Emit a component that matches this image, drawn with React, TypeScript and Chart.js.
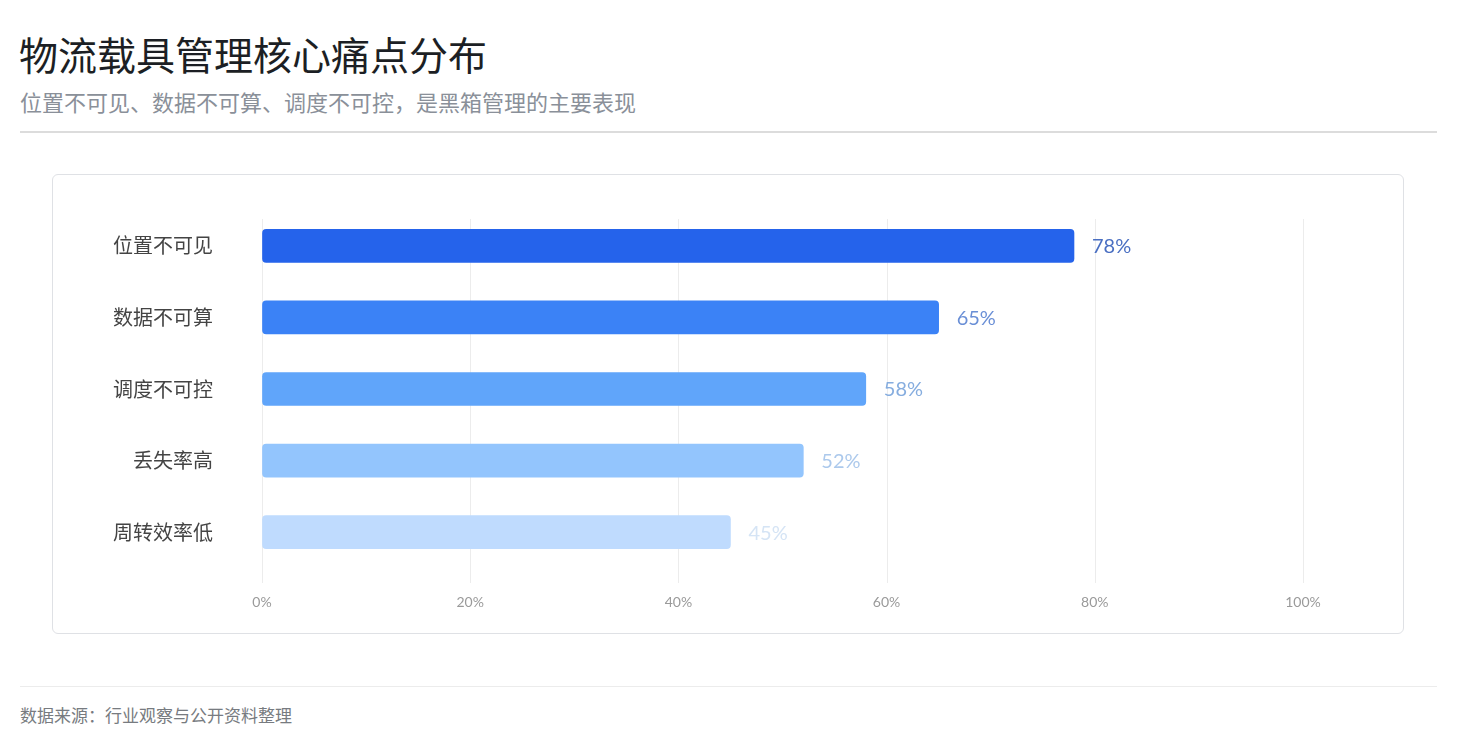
import React, { useEffect, useRef } from "react";
import { Chart, registerables } from "chart.js";

Chart.register(...registerables);

const categories = ["位置不可见", "数据不可算", "调度不可控", "丢失率高", "周转效率低"];
const values = [78, 65, 58, 52, 45];
const barColors = ["#2563eb", "#3b82f6", "#60a5fa", "#93c5fd", "#bfdbfe"];
const labelColors = ["#4a6fc2", "#6a8fd6", "#86addf", "#acc9ec", "#d5e4f5"];
const xTicks = [0, 20, 40, 60, 80, 100];

const CJK = '"Noto Sans CJK SC", "Noto Sans", sans-serif';

const gridPlugin = {
  id: "customGrid",
  beforeDatasetsDraw(chart: any) {
    const { ctx, chartArea, scales } = chart;
    ctx.save();
    ctx.strokeStyle = "#ececec";
    ctx.lineWidth = 1;
    xTicks.forEach((v) => {
      const x = Math.round(scales.x.getPixelForValue(v)) + 0.5;
      ctx.beginPath();
      ctx.moveTo(x, chartArea.top + 9);
      ctx.lineTo(x, chartArea.bottom + 15);
      ctx.stroke();
    });
    ctx.restore();
  },
};

const valueLabelPlugin = {
  id: "valueLabels",
  afterDatasetsDraw(chart: any) {
    const { ctx } = chart;
    const meta = chart.getDatasetMeta(0);
    ctx.save();
    ctx.font = '20px Lato, "Noto Sans", sans-serif';
    ctx.textAlign = "left";
    ctx.textBaseline = "middle";
    meta.data.forEach((bar: any, i: number) => {
      ctx.fillStyle = labelColors[i];
      ctx.fillText(values[i] + "%", bar.x + 18, bar.y + 1);
    });
    ctx.restore();
  },
};

function BarChart() {
  const ref = useRef<HTMLCanvasElement | null>(null);
  useEffect(() => {
    if (!ref.current) return;
    const chart = new Chart(ref.current, {
      type: "bar",
      data: {
        labels: categories,
        datasets: [
          {
            data: values,
            backgroundColor: barColors,
            borderRadius: 4,
            borderSkipped: false,
            barThickness: 33,
          },
        ],
      },
      options: {
        indexAxis: "y",
        animation: false,
        responsive: false,
        maintainAspectRatio: false,
        layout: { padding: { top: 35, right: 100, bottom: 0, left: 0 } },
        plugins: { legend: { display: false }, tooltip: { enabled: false } },
        scales: {
          x: {
            min: 0,
            max: 100,
            afterFit: (s: any) => {
              s.height = 65;
            },
            afterBuildTicks: (s: any) => {
              s.ticks = xTicks.map((v) => ({ value: v }));
            },
            grid: { display: true, color: "rgba(0,0,0,0)", drawTicks: false },
            border: { display: false },
            ticks: {
              padding: 26,
              color: "#9a9a9a",
              font: { family: 'Lato, "Noto Sans", sans-serif', size: 14 },
              callback: (v: any) => v + "%",
            },
          },
          y: {
            afterFit: (s: any) => {
              s.width = 209;
              s.paddingTop = 0;
              s.paddingBottom = 0;
            },
            grid: { display: false, drawTicks: false },
            border: { display: false },
            ticks: {
              padding: 49,
              color: "#444444",
              font: { family: CJK, size: 20 },
            },
          },
        },
      },
      plugins: [gridPlugin, valueLabelPlugin],
    } as any);
    return () => chart.destroy();
  }, []);
  return <canvas ref={ref} width={1350} height={458} style={{ display: "block", width: 1350, height: 458 }} />;
}

export default function App() {
  return (
    <div
      style={{
        position: "absolute",
        left: 0,
        top: 0,
        width: 1460,
        height: 735,
        background: "#ffffff",
        fontFamily: CJK,
        overflow: "hidden",
      }}
    >
      <div
        style={{
          position: "absolute",
          left: 19,
          top: 33,
          fontSize: 39,
          lineHeight: "40px",
          color: "#1c1f24",
          fontWeight: 400,
          whiteSpace: "nowrap",
        }}
      >
        物流载具管理核心痛点分布
      </div>
      <div
        style={{
          position: "absolute",
          left: 20,
          top: 89,
          fontSize: 22,
          lineHeight: "24px",
          color: "#8a9099",
          whiteSpace: "nowrap",
        }}
      >
        位置不可见、数据不可算、调度不可控，是黑箱管理的主要表现
      </div>
      <div
        style={{
          position: "absolute",
          left: 20,
          top: 131,
          width: 1417,
          height: 2,
          background: "#dcdcdc",
        }}
      />
      <div
        style={{
          position: "absolute",
          left: 52,
          top: 174,
          width: 1350,
          height: 458,
          border: "1px solid #dfe1e5",
          borderRadius: 6,
          background: "#fff",
        }}
      >
        <BarChart />
      </div>
      <div
        style={{
          position: "absolute",
          left: 20,
          top: 686,
          width: 1417,
          height: 1,
          background: "#ececec",
        }}
      />
      <div
        style={{
          position: "absolute",
          left: 20,
          top: 705,
          fontSize: 17,
          lineHeight: "20px",
          color: "#777b80",
          whiteSpace: "nowrap",
        }}
      >
        数据来源：行业观察与公开资料整理
      </div>
    </div>
  );
}
